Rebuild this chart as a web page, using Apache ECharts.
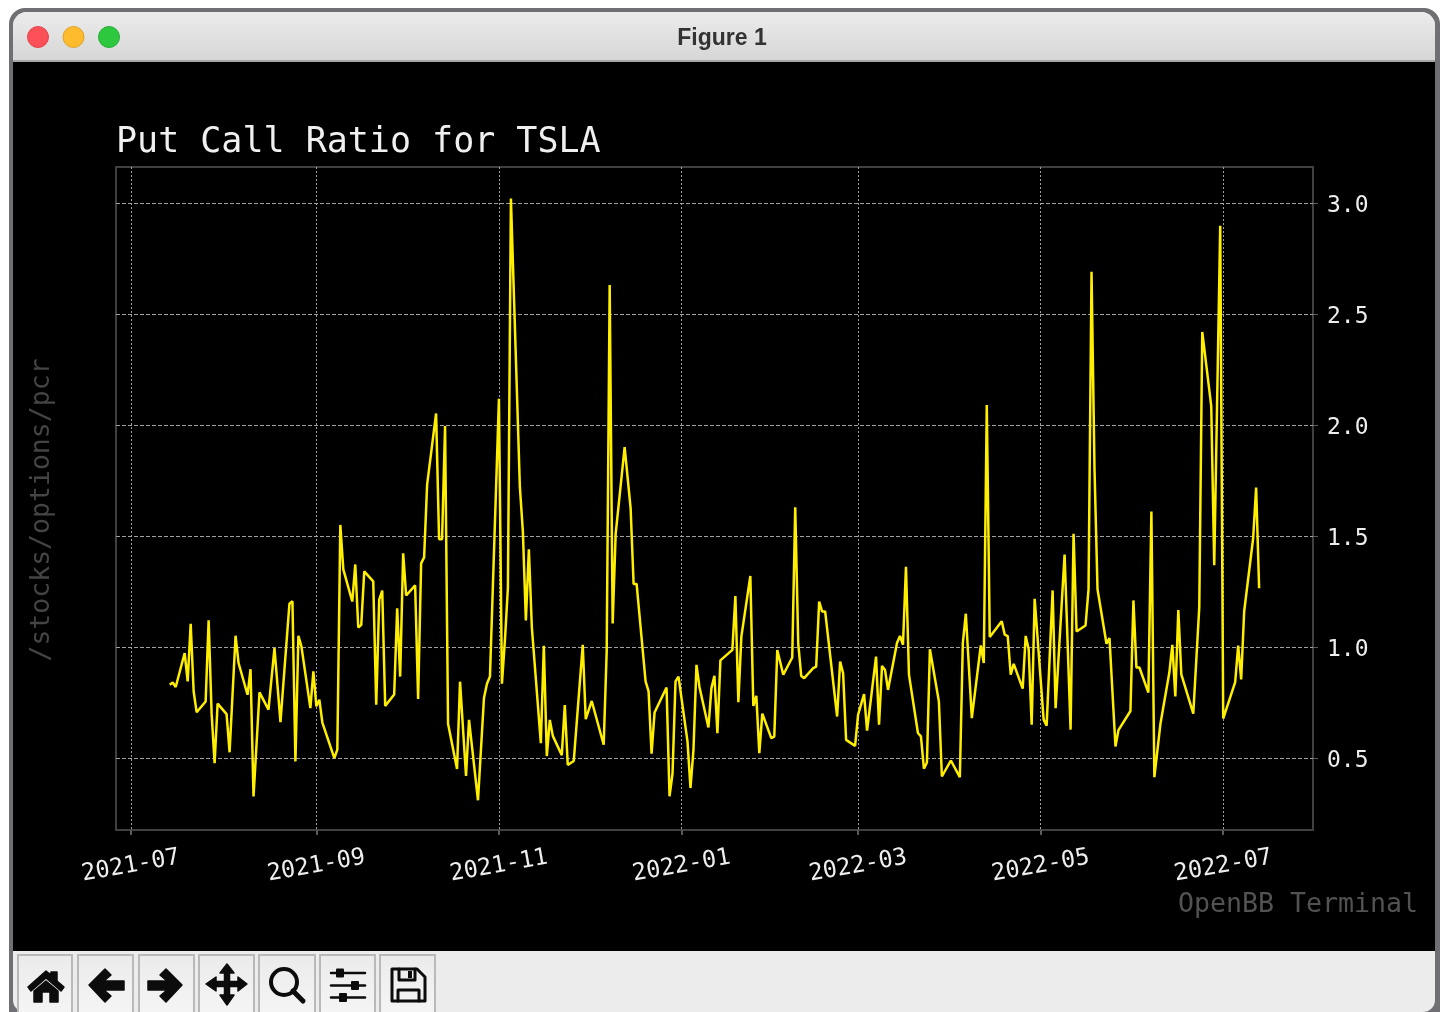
<!DOCTYPE html>
<html>
<head>
<meta charset="utf-8">
<style>html,body{margin:0;padding:0;background:#fff}#c{width:1447px;height:1012px}</style>
<script src="https://cdn.jsdelivr.net/npm/echarts@6/dist/echarts.min.js"></script>
</head>
<body>
<div id="c"></div>
<script>
const startDate = [2021, 6, 1];
const titleText = 'Put Call Ratio for TSLA';
const yTicks = [0.5, 1.0, 1.5, 2.0, 2.5, 3.0];
const xTickLabels = ['2021-07', '2021-09', '2021-11', '2022-01', '2022-03', '2022-05', '2022-07'];
// days since startDate
const tradingDays = [13,14,15,18,19,20,21,22,25,26,27,28,29,32,33,35,36,39,40,41,43,46,48,50,53,54,55,56,57,60,61,62,63,64,68,69,70,71,74,75,76,77,78,81,82,83,84,85,88,89,90,91,92,95,96,97,98,99,102,103,104,105,106,109,110,112,113,116,118,119,120,123,124,125,126,127,130,131,132,133,134,137,138,139,140,141,144,145,146,148,151,152,154,158,159,160,161,162,165,167,168,169,172,173,174,175,179,180,181,182,183,186,187,188,189,190,193,194,195,196,197,201,202,203,204,207,208,209,210,211,214,215,216,218,221,222,223,224,225,228,229,230,231,232,236,237,238,239,242,243,245,246,249,250,251,252,253,256,257,258,259,260,263,264,265,266,267,270,271,274,277,278,279,281,284,285,286,287,291,292,293,294,295,298,299,300,301,302,305,306,308,309,312,314,315,316,319,320,321,322,323,326,327,329,330,334,335,336,337,340,341,342,344,347,348,349,350,351,355,357,358,361,362,364,365,369,370,371,372,375,376,377];
const pcrValues = [0.83,0.84,0.82,0.973,0.845,1.105,0.80,0.706,0.755,1.12,0.70,0.477,0.745,0.698,0.526,1.051,0.928,0.785,0.90,0.327,0.796,0.718,0.995,0.662,1.195,1.206,0.485,1.051,1.003,0.725,0.89,0.733,0.763,0.66,0.5,0.538,1.55,1.35,1.205,1.372,1.088,1.10,1.341,1.296,0.74,1.214,1.254,0.735,0.786,1.175,0.867,1.422,1.232,1.278,0.766,1.377,1.404,1.73,2.052,1.486,1.486,1.995,0.654,0.451,0.844,0.419,0.672,0.31,0.771,0.835,0.867,2.118,0.835,1.03,1.269,3.02,1.72,1.52,1.12,1.44,1.088,0.567,1.006,0.509,0.672,0.6,0.513,0.739,0.469,0.487,1.01,0.675,0.757,0.56,0.98,2.63,1.106,1.51,1.90,1.624,1.284,1.284,0.845,0.80,0.52,0.705,0.818,0.328,0.43,0.845,0.867,0.575,0.365,0.537,0.92,0.82,0.638,0.815,0.87,0.612,0.94,0.987,1.23,0.752,1.047,1.32,0.735,0.78,0.522,0.70,0.59,0.597,0.987,0.875,0.953,1.629,1.017,0.87,0.86,0.905,0.912,1.205,1.16,1.16,0.687,0.935,0.882,0.582,0.555,0.695,0.788,0.624,0.957,0.65,0.915,0.897,0.807,1.018,1.05,1.01,1.361,0.876,0.613,0.598,0.452,0.48,0.99,0.755,0.417,0.489,0.414,1.018,1.15,0.68,1.007,0.928,2.09,1.045,1.116,1.056,1.049,0.876,0.924,0.813,1.05,0.99,0.65,1.217,0.673,0.646,1.255,0.725,1.417,0.628,1.51,1.07,1.097,1.26,2.69,1.8,1.26,1.015,1.04,0.552,0.626,0.712,1.21,0.908,0.908,0.795,1.61,0.414,0.652,0.885,1.01,0.778,1.167,0.877,0.70,1.18,2.419,2.085,1.369,2.897,0.678,0.842,1.006,0.854,1.16,1.49,1.718,1.265];

const DAY = 86400000;
const t0 = Date.UTC(startDate[0], startDate[1], startDate[2]);
const lineData = tradingDays.map((d, i) => [t0 + d * DAY, pcrValues[i]]);
const xTickValues = xTickLabels.map(s => { const p = s.split('-'); return Date.UTC(+p[0], +p[1] - 1, 1); });
const mono = '"DejaVu Sans Mono", monospace';

const fr = { type: 'linear', x: 0, y: 0, x2: 0, y2: 1 };
function btn(x, w) {
  return { type: 'rect', z: -1, shape: { x, y: 955, width: w, height: 60 },
    style: { fill: Object.assign({}, fr, { colorStops: [{ offset: 0, color: '#ebebeb' }, { offset: 1, color: '#f5f5f5' }] }), stroke: '#b9b9b9', lineWidth: 2 } };
}
function ink(pts) { return { type: 'polygon', z: -1, shape: { points: pts }, style: { fill: '#0c0c0c', stroke: '#0c0c0c', lineWidth: 1.5, lineJoin: 'round' } }; }
function stroke(shapeType, shape, w) { return { type: shapeType, z: -1, shape, style: { fill: null, stroke: '#0c0c0c', lineWidth: w, lineCap: 'round', lineJoin: 'round' } }; }
function knob(x, y) { return { type: 'rect', z: -1, shape: { x: x - 4, y: y - 4.5, width: 8, height: 9, r: 1 }, style: { fill: '#0c0c0c' } }; }

const chrome = [
  { type: 'rect', z: -3, shape: { x: 9, y: 8, width: 1431, height: 1012, r: [16, 16, 0, 0] }, style: { fill: '#6f6f74' } },
  { type: 'rect', z: -2, shape: { x: 13, y: 12, width: 1422, height: 1000, r: [14, 14, 12, 12] }, style: { fill: '#ececec' } },
  { type: 'rect', z: -2, shape: { x: 13, y: 12, width: 1422, height: 50, r: [14, 14, 0, 0] },
    style: { fill: Object.assign({}, fr, { colorStops: [{ offset: 0, color: '#ececec' }, { offset: 1, color: '#d5d5d5' }] }) } },
  { type: 'rect', z: -2, shape: { x: 13, y: 61, width: 1422, height: 890 }, style: { fill: '#000' } },
  { type: 'rect', z: -2, shape: { x: 13, y: 60, width: 1422, height: 2 }, style: { fill: '#a6a6a6' } },
  { type: 'circle', z: -1, shape: { cx: 38, cy: 37, r: 10.5 }, style: { fill: '#fb5058', stroke: '#e2444b', lineWidth: 1 } },
  { type: 'circle', z: -1, shape: { cx: 73.5, cy: 37, r: 10.5 }, style: { fill: '#febb2d', stroke: '#e0a226', lineWidth: 1 } },
  { type: 'circle', z: -1, shape: { cx: 109, cy: 37, r: 10.5 }, style: { fill: '#2dc83e', stroke: '#27ae36', lineWidth: 1 } },
  { type: 'text', z: 5, x: 722, y: 38.5, style: { text: 'Figure 1', fill: '#333333', font: 'bold 23px "Liberation Sans", sans-serif', align: 'center', verticalAlign: 'middle' } },
  { type: 'text', z: 5, x: 42, y: 510, rotation: Math.PI / 2, style: { text: '/stocks/options/pcr', fill: '#444444', font: '26.5px ' + mono, align: 'center', verticalAlign: 'middle' } },
  { type: 'text', z: 5, x: 1298, y: 905.5, style: { text: 'OpenBB Terminal', fill: '#525252', font: '26.6px ' + mono, align: 'center', verticalAlign: 'middle' } },
  btn(18, 54), btn(78, 55), btn(139, 55), btn(199, 55), btn(259, 56), btn(320, 55), btn(380, 55),
  ink([[46,971],[28,987],[31,991],[46,978],[61,991],[64,987],[57,981],[57,972],[51,972],[51,975]]),
  ink([[34,991],[46,981],[58,991],[58,1002],[50,1002],[50,992],[42,992],[42,1002],[34,1002]]),
  ink([[89,985],[105,969],[111,975],[104,981],[124,981],[124,990],[104,990],[111,996],[105,1002]]),
  ink([[182,985],[166,969],[160,975],[167,981],[148,981],[148,990],[167,990],[160,996],[166,1002]]),
  ink([[227,964],[234,973],[229.5,973],[229.5,981.5],[238,981.5],[238,977],[247,984],[238,991],[238,986.5],[229.5,986.5],[229.5,995],[234,995],[227,1005],[220,995],[224.5,995],[224.5,986.5],[216,986.5],[216,991],[206,984],[216,977],[216,981.5],[224.5,981.5],[224.5,973],[220,973]]),
  stroke('circle', { cx: 284, cy: 982, r: 13 }, 4),
  stroke('line', { x1: 293, y1: 991, x2: 303, y2: 1001 }, 5),
  stroke('line', { x1: 331, y1: 973, x2: 365, y2: 973 }, 2.5), knob(340, 973),
  stroke('line', { x1: 331, y1: 985.5, x2: 365, y2: 985.5 }, 2.5), knob(355, 985.5),
  stroke('line', { x1: 331, y1: 997.5, x2: 365, y2: 997.5 }, 2.5), knob(343, 997.5),
  stroke('polygon', { points: [[392,969],[417,969],[425,977],[425,1001],[392,1001]] }, 3),
  stroke('polyline', { points: [[399,969],[399,980],[415,980],[415,969]] }, 3),
  stroke('polyline', { points: [[398,1001],[398,990],[419,990],[419,1001]] }, 3),
  { type: 'rect', z: -1, shape: { x: 408, y: 971, width: 4, height: 7 }, style: { fill: '#0c0c0c' } }
];

const chart = echarts.init(document.getElementById('c'), null, { renderer: 'canvas', width: 1447, height: 1012 });
chart.setOption({
  animation: false,
  backgroundColor: '#ffffff',
  graphic: { elements: chrome },
  title: { text: titleText, left: 116, top: 125.5, padding: 0, textStyle: { color: '#f0f0f0', fontFamily: mono, fontSize: 35, fontWeight: 'normal' } },
  grid: { left: 116, right: 134, top: 167, bottom: 182, show: true, borderColor: '#404040', borderWidth: 2, backgroundColor: 'transparent' },
  xAxis: {
    type: 'value',
    min: t0 - 4.95 * DAY,
    max: t0 + 395 * DAY,
    axisLine: { show: false },
    axisTick: { show: true, length: 5, customValues: xTickValues, lineStyle: { color: '#5a5a5a', width: 2 } },
    splitLine: { show: true, lineStyle: { color: '#a0a0a0', type: [2, 2], width: 1 } },
    axisLabel: {
      customValues: xTickValues, rotate: 10, margin: 36, align: 'center', verticalAlign: 'middle',
      color: '#eeeeee', fontFamily: mono, fontSize: 23.5, hideOverlap: false,
      formatter: v => { const d = new Date(v); return d.getUTCFullYear() + '-' + String(d.getUTCMonth() + 1).padStart(2, '0'); }
    }
  },
  yAxis: {
    type: 'value',
    position: 'right',
    min: 0.176,
    max: 3.162,
    axisLine: { show: false },
    axisTick: { show: true, length: 5, customValues: yTicks, lineStyle: { color: '#5a5a5a', width: 1 } },
    splitLine: { show: true, lineStyle: { color: '#a0a0a0', type: [4, 2], width: 1 } },
    axisLabel: { customValues: yTicks, margin: 14, verticalAlign: 'top', lineHeight: 6, color: '#eeeeee', fontFamily: mono, fontSize: 23, formatter: v => v.toFixed(1) }
  },
  series: [{
    type: 'line', name: 'PCR', data: lineData, showSymbol: false, symbol: 'none', smooth: false,
    lineStyle: { color: '#ffee00', width: 2.5 }, z: 3
  }]
});
</script>
</body>
</html>
